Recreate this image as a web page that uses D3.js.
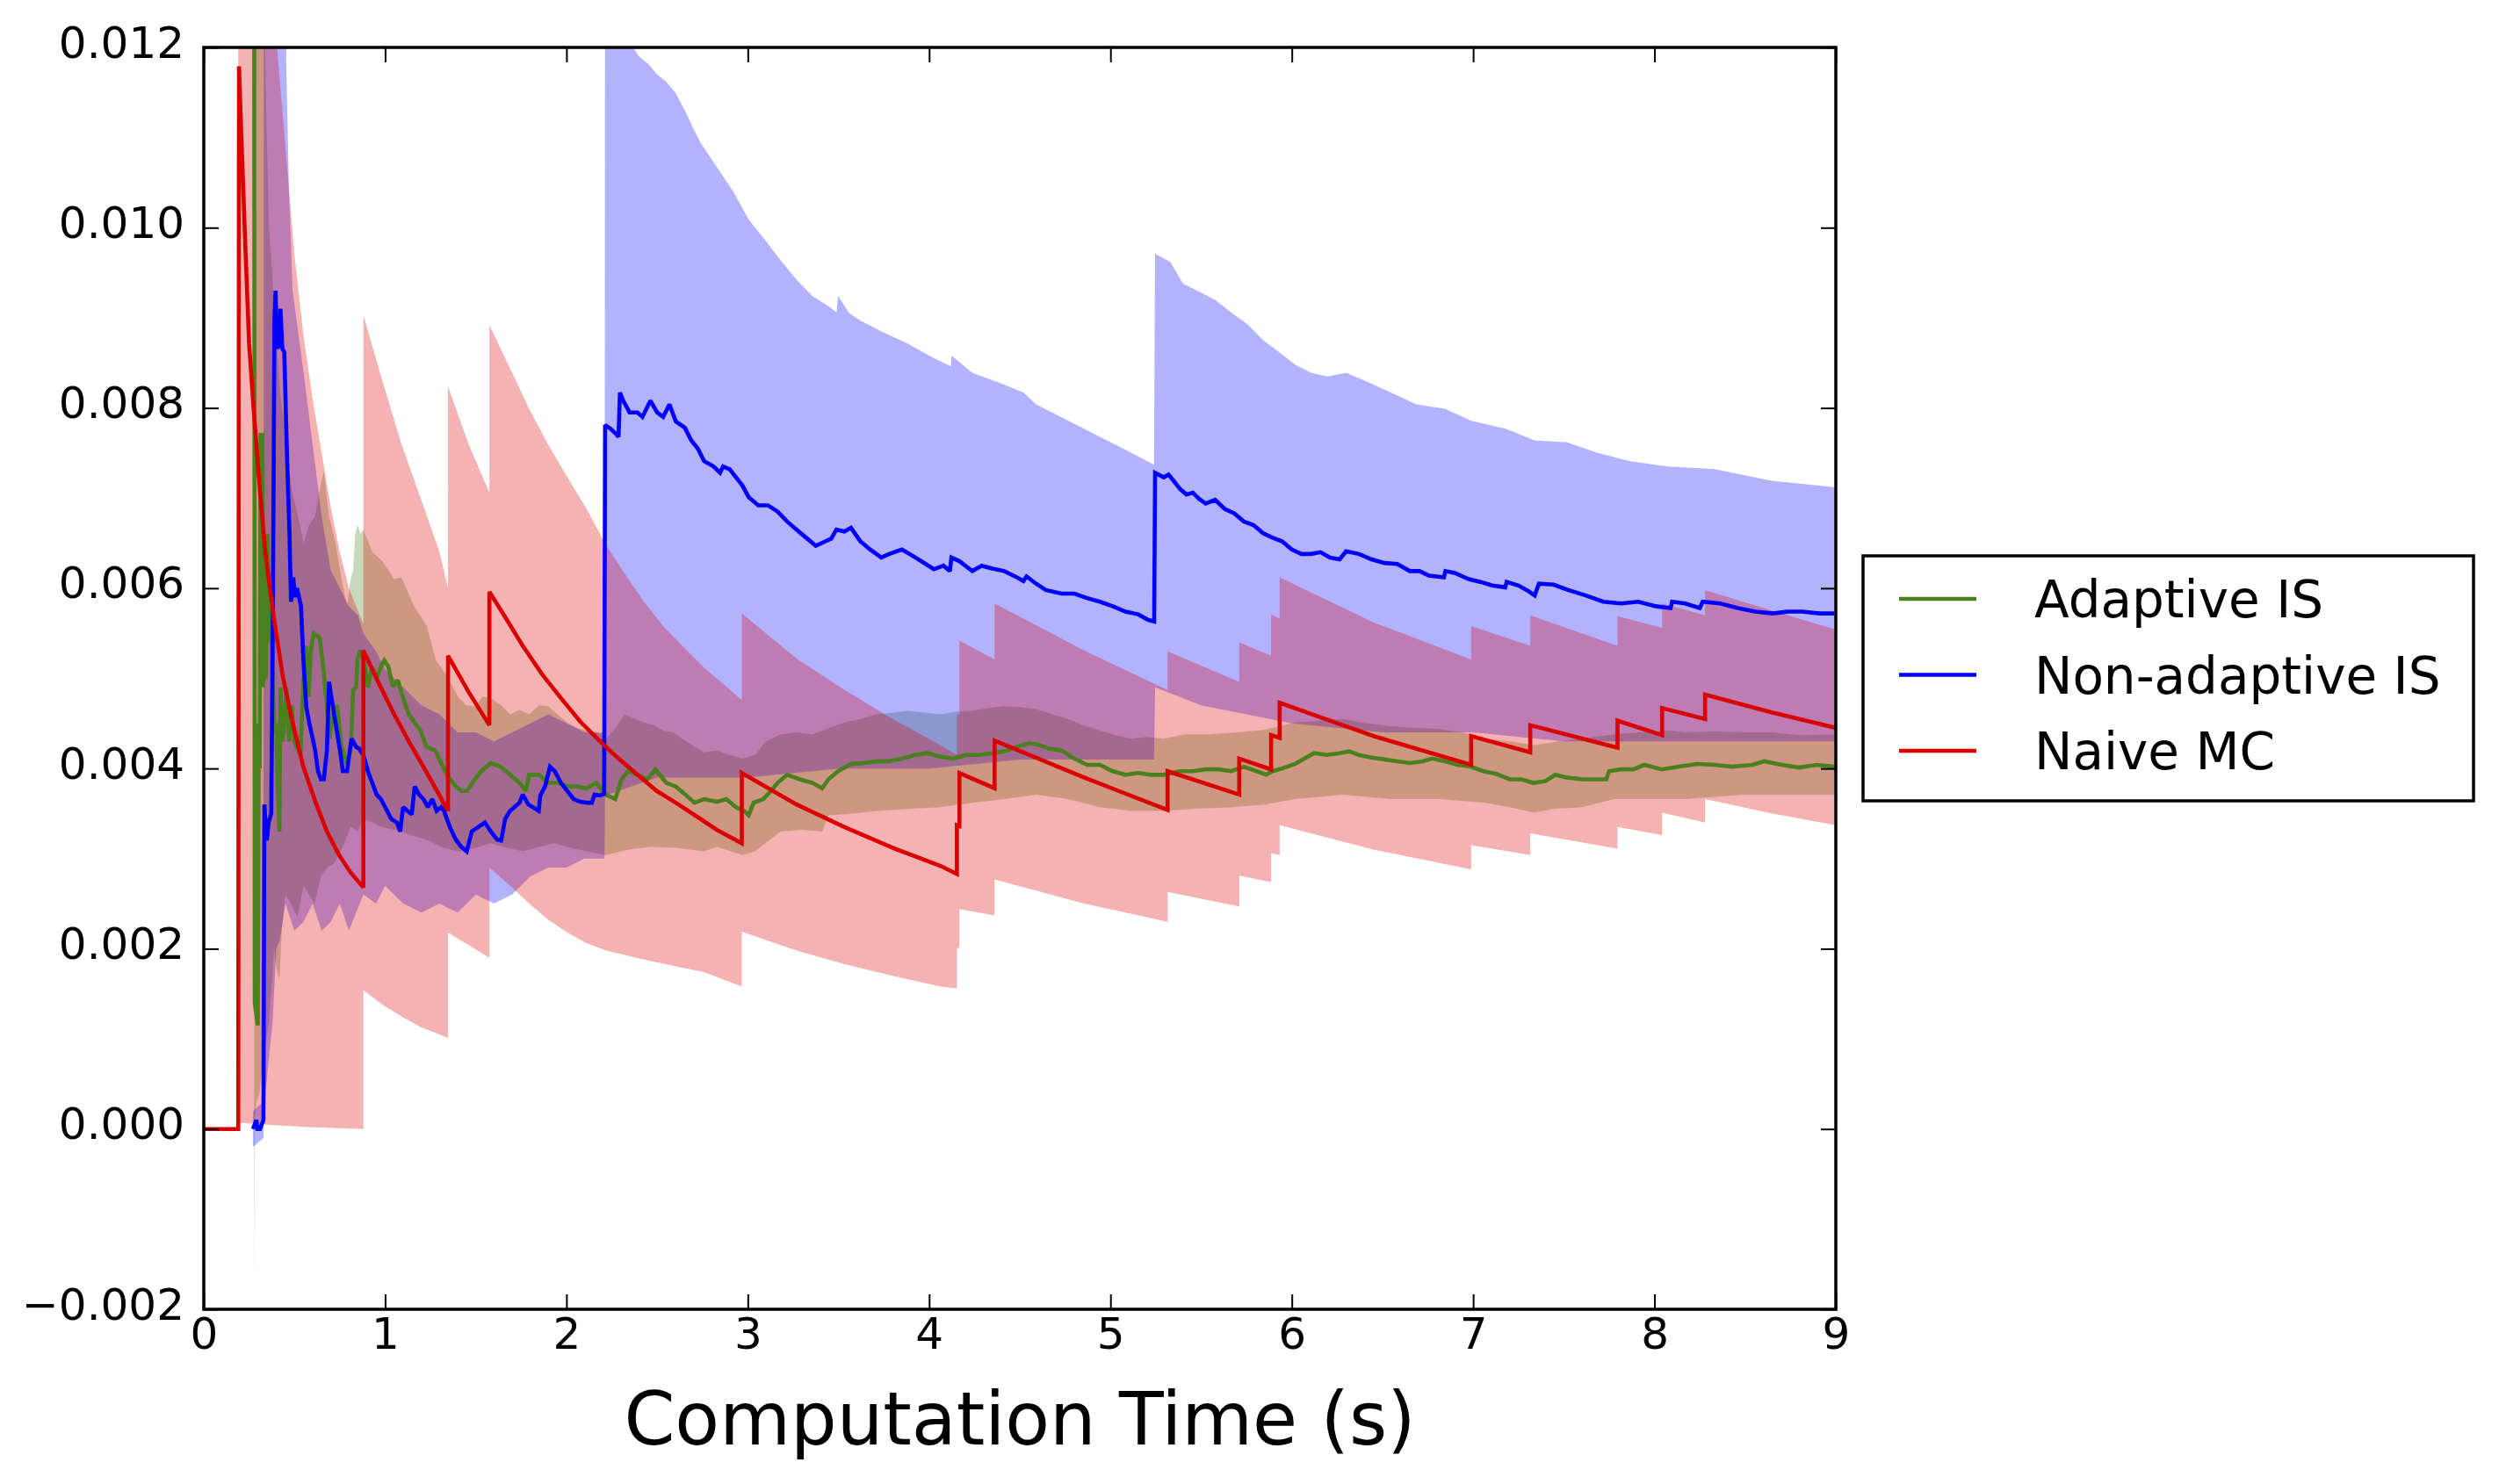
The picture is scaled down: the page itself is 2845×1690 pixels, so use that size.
<!DOCTYPE html>
<html>
<head>
<meta charset="utf-8">
<script src="https://cdn.jsdelivr.net/npm/d3@7"></script>
<style>
  html, body { margin: 0; padding: 0; background: #ffffff; }
  svg { display: block; }
  text { font-family: "DejaVu Sans", sans-serif; fill: #000; }
</style>
</head>
<body>
<div id="chart"></div>
<script>
// ---------------- DATA ----------------
const xTicks = [0, 1, 2, 3, 4, 5, 6, 7, 8, 9];
const yTicks = [-0.002, 0.000, 0.002, 0.004, 0.006, 0.008, 0.010, 0.012];
const xTickLabels = ["0", "1", "2", "3", "4", "5", "6", "7", "8", "9"];
const yTickLabels = ["\u22120.002", "0.000", "0.002", "0.004", "0.006", "0.008", "0.010", "0.012"];
const xAxisTitle = "Computation Time (s)";
const seriesNames = ["Adaptive IS", "Non-adaptive IS", "Naive MC"];

// Adaptive IS: running estimate [time, value]
const adaptiveLine = [
  [0.278,0.0130],[0.281,0.0014],[0.298,0.00115],[0.303,0.0045],[0.308,0.0040],[0.313,0.0077],[0.323,0.0077],
  [0.328,0.0049],[0.335,0.0065],[0.342,0.0050],[0.350,0.0066],[0.360,0.0054],[0.370,0.0058],[0.380,0.0050],
  [0.390,0.0044],[0.400,0.0045],[0.408,0.0038],[0.417,0.0033],[0.423,0.0049],[0.432,0.0043],[0.440,0.0044],
  [0.456,0.0049],[0.470,0.0043],[0.485,0.0047],[0.500,0.0043],[0.520,0.0042],[0.533,0.00415],[0.549,0.00496],
  [0.565,0.00536],[0.578,0.0048],[0.590,0.0053],[0.606,0.0055],[0.638,0.00545],[0.655,0.0052],[0.675,0.00478],
  [0.695,0.00433],[0.711,0.0046],[0.735,0.0047],[0.759,0.00424],[0.788,0.00406],[0.810,0.0042],[0.824,0.00487],
  [0.840,0.0049],[0.848,0.00522],[0.864,0.00531],[0.880,0.00522],[0.905,0.0049],[0.929,0.00513],[0.953,0.0050],
  [0.977,0.00513],[0.995,0.0052],[1.018,0.00513],[1.042,0.00491],[1.070,0.00498],[1.099,0.00478],[1.131,0.0046],
  [1.163,0.00451],[1.195,0.00442],[1.228,0.00424],[1.276,0.0042],[1.309,0.00406],[1.341,0.00393],[1.389,0.0038],
  [1.422,0.00375],[1.451,0.00375],[1.495,0.00388],[1.530,0.00397],[1.583,0.00406],[1.636,0.00402],[1.689,0.00393],
  [1.741,0.00384],[1.777,0.00375],[1.794,0.00393],[1.847,0.00393],[1.900,0.00384],[1.953,0.00384],[2.005,0.0038],
  [2.058,0.0038],[2.111,0.00378],[2.164,0.00384],[2.216,0.00371],[2.269,0.00366],[2.304,0.00388],[2.339,0.00397],
  [2.392,0.00393],[2.445,0.00388],[2.490,0.00399],[2.551,0.00384],[2.603,0.0038],[2.656,0.00371],[2.706,0.00362],
  [2.759,0.00366],[2.829,0.00363],[2.882,0.00366],[2.935,0.00357],[2.979,0.00353],[3.005,0.00348],[3.032,0.00362],
  [3.085,0.00366],[3.128,0.00375],[3.164,0.00384],[3.217,0.00393],[3.287,0.00388],[3.357,0.00384],[3.410,0.00378],
  [3.445,0.00388],[3.498,0.00397],[3.569,0.00405],[3.639,0.00406],[3.710,0.00408],[3.780,0.00408],[3.850,0.00411],
  [3.921,0.00415],[3.991,0.00417],[4.062,0.00413],[4.132,0.00411],[4.202,0.00415],[4.273,0.00415],[4.343,0.00417],
  [4.414,0.00419],[4.484,0.00424],[4.555,0.00428],[4.607,0.00426],[4.660,0.00422],[4.731,0.0042],[4.801,0.00411],
  [4.871,0.00404],[4.942,0.00404],[5.012,0.00397],[5.083,0.00393],[5.153,0.00395],[5.224,0.00393],[5.294,0.00393],
  [5.384,0.00397],[5.454,0.00397],[5.525,0.00399],[5.595,0.00399],[5.665,0.00397],[5.736,0.00402],[5.806,0.00397],
  [5.859,0.00393],[5.894,0.00397],[5.947,0.004],[6.018,0.00405],[6.070,0.00411],[6.123,0.00417],[6.194,0.00415],
  [6.264,0.00417],[6.317,0.00419],[6.370,0.00415],[6.440,0.00412],[6.511,0.0041],[6.581,0.00408],[6.651,0.00406],
  [6.722,0.00408],[6.775,0.00411],[6.845,0.00408],[6.915,0.00404],[6.986,0.00402],[7.056,0.00397],[7.127,0.00394],
  [7.202,0.00388],[7.268,0.00388],[7.331,0.00384],[7.400,0.00386],[7.452,0.00393],[7.514,0.0039],[7.605,0.00388],
  [7.734,0.00388],[7.750,0.00397],[7.813,0.00399],[7.884,0.00399],[7.944,0.00404],[8.040,0.00399],[8.137,0.00402],
  [8.234,0.00405],[8.331,0.00404],[8.427,0.00402],[8.540,0.00404],[8.605,0.00408],[8.702,0.00404],[8.798,0.00401],
  [8.895,0.00404],[8.992,0.00402]
];
const adaptiveUpper = [
  [0.278,0.0130],[0.330,0.0130],[0.345,0.0112],[0.360,0.0100],[0.380,0.0094],[0.400,0.0088],[0.420,0.0082],
  [0.450,0.0077],[0.485,0.0071],[0.520,0.0068],[0.550,0.0065],[0.580,0.0067],[0.614,0.0068],[0.640,0.0071],
  [0.662,0.0073],[0.690,0.0068],[0.727,0.0065],[0.760,0.0061],[0.790,0.0058],[0.810,0.0061],[0.824,0.0062],
  [0.835,0.0066],[0.848,0.0067],[0.865,0.0066],[0.880,0.00665],[0.930,0.0064],[0.985,0.0063],[1.050,0.0061],
  [1.090,0.00612],[1.160,0.0058],[1.230,0.00558],[1.280,0.0052],[1.337,0.00504],[1.407,0.00478],[1.450,0.0047],
  [1.495,0.00469],[1.540,0.0048],[1.583,0.00478],[1.640,0.0047],[1.689,0.0046],[1.740,0.00465],[1.794,0.0046],
  [1.850,0.0047],[1.900,0.00469],[1.950,0.0046],[2.005,0.00451],[2.060,0.00445],[2.111,0.00442],[2.170,0.0044],
  [2.220,0.00433],[2.270,0.00445],[2.322,0.0046],[2.380,0.00455],[2.427,0.00451],[2.480,0.00448],[2.533,0.00442],
  [2.590,0.0044],[2.638,0.00433],[2.700,0.00425],[2.758,0.00418],[2.830,0.0042],[2.900,0.00415],[2.970,0.00411],
  [3.040,0.00415],[3.100,0.0043],[3.180,0.00438],[3.270,0.0044],[3.357,0.00438],[3.450,0.00445],[3.533,0.00451],
  [3.620,0.00455],[3.710,0.0046],[3.800,0.00462],[3.886,0.00464],[3.970,0.00462],[4.060,0.0046],[4.150,0.00463],
  [4.238,0.00464],[4.330,0.00467],[4.414,0.00469],[4.500,0.00468],[4.590,0.00466],[4.680,0.0046],[4.766,0.00455],
  [4.850,0.00448],[4.942,0.00442],[5.030,0.00437],[5.118,0.00433],[5.200,0.00435],[5.294,0.00433],[5.414,0.00438],
  [5.550,0.00438],[5.700,0.0044],[5.850,0.00443],[6.018,0.00451],[6.150,0.00453],[6.280,0.00455],[6.410,0.0045],
  [6.546,0.00447],[6.680,0.00445],[6.810,0.00444],[6.940,0.0044],[7.070,0.00433],[7.200,0.0043],[7.338,0.00426],
  [7.470,0.0043],[7.600,0.00433],[7.778,0.00438],[7.920,0.0044],[8.074,0.00442],[8.170,0.0044],[8.330,0.00441],
  [8.490,0.0044],[8.650,0.0044],[8.800,0.00437],[9.000,0.00438]
];
const adaptiveLower = [
  [0.278,-0.0017],[0.282,0.0001],[0.290,0.0003],[0.307,0.0004],[0.330,0.0008],[0.360,0.0012],[0.388,0.0020],
  [0.400,0.0018],[0.417,0.00165],[0.430,0.0022],[0.450,0.0026],[0.480,0.0025],[0.517,0.00235],[0.550,0.0027],
  [0.580,0.0026],[0.610,0.0025],[0.646,0.0028],[0.680,0.0029],[0.720,0.00295],[0.760,0.0031],[0.810,0.00335],
  [0.850,0.0033],[0.880,0.00344],[0.930,0.0034],[0.985,0.00335],[1.090,0.0033],[1.160,0.00325],[1.230,0.00321],
  [1.320,0.00312],[1.407,0.00308],[1.500,0.00312],[1.583,0.00317],[1.670,0.00312],[1.760,0.00308],[1.850,0.00313],
  [1.935,0.00317],[2.020,0.00312],[2.111,0.00308],[2.220,0.00304],[2.340,0.0031],[2.463,0.00313],[2.600,0.00312],
  [2.758,0.00308],[2.830,0.00313],[2.970,0.00304],[3.040,0.00308],[3.180,0.0033],[3.300,0.00332],[3.410,0.0033],
  [3.445,0.00348],[3.580,0.0035],[3.710,0.00353],[3.880,0.00355],[4.060,0.00357],[4.240,0.00362],[4.414,0.00366],
  [4.590,0.00371],[4.766,0.00366],[4.942,0.00357],[5.118,0.00353],[5.294,0.00353],[5.450,0.00355],[5.665,0.00357],
  [5.850,0.0036],[6.018,0.00366],[6.280,0.00371],[6.546,0.00366],[6.810,0.00366],[7.070,0.00362],[7.200,0.00357],
  [7.338,0.00351],[7.440,0.00355],[7.600,0.00357],[7.778,0.00366],[8.074,0.00366],[8.170,0.00366],[8.490,0.00371],
  [9.000,0.00371]
];

// Non-adaptive IS
const nonAdaptiveLine = [
  [0.271,0.0000],[0.290,0.0001],[0.296,0.0000],[0.310,0.0000],[0.329,0.0001],[0.334,0.0036],[0.347,0.0032],
  [0.358,0.0034],[0.372,0.0035],[0.380,0.0054],[0.390,0.0090],[0.396,0.0093],[0.404,0.00866],[0.417,0.0087],
  [0.423,0.0091],[0.433,0.00866],[0.444,0.00862],[0.452,0.0080],[0.460,0.0074],[0.472,0.00665],[0.481,0.00585],
  [0.493,0.00612],[0.504,0.0059],[0.514,0.0060],[0.536,0.0058],[0.549,0.00522],[0.565,0.00469],[0.582,0.0045],
  [0.601,0.00433],[0.614,0.0042],[0.630,0.00397],[0.646,0.00388],[0.662,0.00388],[0.679,0.0042],[0.691,0.00496],
  [0.703,0.0048],[0.719,0.0046],[0.735,0.0044],[0.751,0.0042],[0.767,0.00397],[0.790,0.00397],[0.808,0.00424],
  [0.816,0.00433],[0.840,0.00424],[0.856,0.00422],[0.880,0.00415],[0.905,0.00397],[0.929,0.00384],[0.953,0.00371],
  [0.977,0.00366],[1.000,0.00357],[1.034,0.00344],[1.066,0.0034],[1.083,0.0033],[1.099,0.00357],[1.123,0.00353],
  [1.147,0.00349],[1.163,0.0038],[1.187,0.00371],[1.212,0.00366],[1.236,0.00357],[1.260,0.00366],[1.284,0.00353],
  [1.309,0.00357],[1.325,0.00353],[1.357,0.00335],[1.390,0.00321],[1.420,0.00313],[1.450,0.00308],[1.478,0.0033],
  [1.513,0.00335],[1.550,0.0034],[1.583,0.0033],[1.618,0.00321],[1.640,0.0032],[1.662,0.00344],[1.689,0.00353],
  [1.741,0.00362],[1.759,0.00371],[1.790,0.0036],[1.847,0.00353],[1.856,0.0037],[1.882,0.0038],[1.909,0.00402],
  [1.935,0.00397],[1.970,0.00384],[2.005,0.00375],[2.040,0.00366],[2.076,0.00363],[2.111,0.00362],[2.140,0.00362],
  [2.155,0.00371],[2.185,0.0037],[2.208,0.00372],[2.213,0.00781],[2.243,0.00777],[2.269,0.00772],[2.287,0.00768],
  [2.295,0.00817],[2.313,0.00808],[2.348,0.00795],[2.392,0.00795],[2.419,0.0079],[2.463,0.00808],[2.500,0.00795],
  [2.533,0.0079],[2.568,0.00804],[2.603,0.00785],[2.653,0.00778],[2.688,0.00764],[2.724,0.00755],[2.759,0.00741],
  [2.812,0.00735],[2.847,0.00728],[2.864,0.00735],[2.900,0.00732],[2.935,0.00723],[2.970,0.00714],[3.005,0.00701],
  [3.058,0.00692],[3.111,0.00692],[3.164,0.00685],[3.217,0.00674],[3.269,0.00665],[3.322,0.00656],[3.375,0.00647],
  [3.428,0.00652],[3.460,0.00655],[3.489,0.00665],[3.533,0.00663],[3.569,0.00667],[3.621,0.00652],[3.674,0.00643],
  [3.736,0.00634],[3.780,0.00638],[3.850,0.00643],[3.900,0.00637],[3.956,0.0063],[4.026,0.00621],[4.079,0.00625],
  [4.114,0.00619],[4.123,0.00634],[4.167,0.0063],[4.238,0.00619],[4.290,0.00625],[4.343,0.00622],[4.414,0.00619],
  [4.484,0.00612],[4.520,0.00608],[4.537,0.00613],[4.590,0.00605],[4.643,0.00598],[4.731,0.00594],[4.801,0.00594],
  [4.871,0.00589],[4.942,0.00585],[5.012,0.0058],[5.083,0.00574],[5.153,0.00571],[5.206,0.00565],[5.241,0.00563],
  [5.246,0.00728],[5.294,0.00723],[5.320,0.00726],[5.349,0.00719],[5.384,0.0071],[5.419,0.00704],[5.454,0.00706],
  [5.489,0.00699],[5.525,0.00694],[5.577,0.00698],[5.630,0.00688],[5.683,0.00683],[5.736,0.00674],[5.789,0.0067],
  [5.842,0.00661],[5.894,0.00656],[5.947,0.00652],[6.000,0.00643],[6.053,0.00638],[6.106,0.00638],[6.158,0.0064],
  [6.211,0.00634],[6.264,0.00632],[6.299,0.00641],[6.370,0.00638],[6.440,0.00632],[6.511,0.00628],[6.581,0.00627],
  [6.651,0.00619],[6.704,0.00619],[6.757,0.00614],[6.839,0.00612],[6.847,0.00619],[6.898,0.00617],[6.976,0.0061],
  [7.040,0.00607],[7.105,0.00603],[7.177,0.00601],[7.185,0.00607],[7.250,0.00603],[7.303,0.00597],[7.339,0.00592],
  [7.363,0.00605],[7.444,0.00604],[7.524,0.00598],[7.621,0.00592],[7.718,0.00585],[7.815,0.00583],[7.911,0.00585],
  [8.008,0.0058],[8.089,0.00578],[8.097,0.00585],[8.169,0.00583],[8.250,0.00578],[8.266,0.00585],[8.363,0.00583],
  [8.460,0.00578],[8.556,0.00574],[8.653,0.00572],[8.734,0.00574],[8.815,0.00574],[8.911,0.00572],[8.992,0.00572]
];
const nonAdaptiveUpper = [
  [0.271,0.0002],[0.329,0.0003],[0.331,0.0130],[0.450,0.0128],[0.455,0.0118],[0.470,0.0104],[0.490,0.0093],
  [0.550,0.0084],[0.600,0.0076],[0.650,0.0068],[0.700,0.0062],[0.750,0.0060],[0.800,0.0058],[0.850,0.0057],
  [0.880,0.0055],[0.950,0.0053],[1.000,0.0051],[1.100,0.0049],[1.200,0.0047],[1.300,0.0046],[1.400,0.0044],
  [1.500,0.0044],[1.600,0.0043],[1.700,0.0044],[1.800,0.0045],[1.900,0.0046],[2.000,0.0045],[2.100,0.0044],
  [2.210,0.0044],[2.213,0.0128],[2.300,0.0122],[2.350,0.01205],[2.400,0.0119],[2.450,0.01182],[2.500,0.0117],
  [2.550,0.01162],[2.600,0.0115],[2.653,0.0113],[2.700,0.0111],[2.740,0.01094],[2.830,0.01067],[2.920,0.0104],
  [3.005,0.01009],[3.093,0.00987],[3.180,0.00964],[3.270,0.00942],[3.357,0.00924],[3.450,0.00912],[3.490,0.00906],
  [3.498,0.00924],[3.560,0.00905],[3.620,0.00897],[3.745,0.00884],[3.886,0.00871],[4.009,0.00857],[4.120,0.00846],
  [4.123,0.00858],[4.238,0.00839],[4.414,0.00826],[4.520,0.00817],[4.590,0.00804],[4.766,0.00786],[4.942,0.00768],
  [5.118,0.0075],[5.240,0.00737],[5.246,0.00971],[5.330,0.00962],[5.400,0.00938],[5.490,0.00929],[5.577,0.0092],
  [5.665,0.00906],[5.754,0.00893],[5.842,0.00875],[5.930,0.00862],[6.018,0.00848],[6.106,0.00839],[6.194,0.00835],
  [6.299,0.00839],[6.405,0.0083],[6.546,0.00817],[6.687,0.00804],[6.845,0.00799],[6.986,0.00786],[7.180,0.00777],
  [7.338,0.00764],[7.514,0.00762],[7.690,0.0075],[7.866,0.00741],[8.074,0.00735],[8.330,0.00732],[8.653,0.00719],
  [9.000,0.00712]
];
const nonAdaptiveLower = [
  [0.271,-0.0002],[0.329,-0.0001],[0.331,0.0002],[0.360,0.0008],[0.380,0.0012],[0.400,0.0020],[0.420,0.0021],
  [0.450,0.0025],[0.500,0.0022],[0.550,0.0023],[0.600,0.0025],[0.650,0.0022],[0.700,0.0023],[0.750,0.0025],
  [0.800,0.0022],[0.880,0.0026],[0.950,0.0025],[1.000,0.0027],[1.100,0.0025],[1.200,0.0024],[1.300,0.0025],
  [1.400,0.0024],[1.500,0.0026],[1.600,0.0025],[1.700,0.0026],[1.800,0.0028],[1.900,0.0029],[2.000,0.0029],
  [2.100,0.0030],[2.210,0.0030],[2.213,0.0037],[2.500,0.0039],[3.000,0.0039],[3.500,0.0040],[4.000,0.0040],
  [4.500,0.0041],[5.000,0.0041],[5.240,0.0041],[5.246,0.0049],[5.500,0.0047],[6.000,0.0045],[6.500,0.0044],
  [7.000,0.0044],[7.500,0.0043],[8.000,0.0043],[8.500,0.0043],[9.000,0.0043]
];

// Naive MC
const naiveLine = [
  [0,0],[0.19,0],[0.194,0.01179],[0.207,0.01103],[0.226,0.00996],[0.250,0.00871],[0.275,0.00799],[0.307,0.00715],
  [0.339,0.0064],[0.388,0.00565],[0.436,0.00502],[0.485,0.00455],[0.549,0.00402],[0.614,0.00364],[0.679,0.0033],
  [0.743,0.00305],[0.808,0.00285],[0.880,0.00268],
  [0.880,0.00531],[0.969,0.00493],[1.050,0.0046],[1.131,0.0043],[1.228,0.00396],[1.347,0.00353],
  [1.347,0.00525],[1.460,0.00485],[1.575,0.00448],
  [1.575,0.00596],[1.671,0.00565],[1.759,0.00536],[1.864,0.00505],[1.970,0.00478],[2.076,0.00452],[2.181,0.00431],
  [2.287,0.00411],[2.392,0.00393],[2.498,0.00375],[2.603,0.00362],[2.709,0.00348],[2.829,0.00332],[2.967,0.00317],
  [2.967,0.00395],[3.269,0.0036],[3.533,0.00335],[3.798,0.00312],[4.062,0.00292],[4.153,0.00283],
  [4.153,0.00337],[4.167,0.00336],[4.167,0.00395],[4.361,0.00378],
  [4.361,0.00431],[4.854,0.0039],[5.315,0.00354],
  [5.315,0.00397],[5.710,0.00371],
  [5.710,0.00411],[5.886,0.00399],
  [5.886,0.00437],[5.933,0.00434],
  [5.933,0.00473],[6.450,0.00436],[6.989,0.00404],
  [6.989,0.00436],[7.315,0.00418],
  [7.315,0.00448],[7.796,0.00423],
  [7.796,0.00453],[8.042,0.00437],
  [8.042,0.00467],[8.279,0.00455],
  [8.279,0.00482],[8.650,0.00462],[9.000,0.00445]
];
const naiveUpper = [
  [0.19,0.0135],[0.30,0.0128],[0.40,0.0121],[0.45,0.0109],[0.50,0.0097],[0.55,0.0088],[0.60,0.0081],[0.65,0.0075],
  [0.70,0.0069],[0.75,0.0064],[0.80,0.0060],[0.88,0.0056],
  [0.88,0.00903],[0.985,0.0083],[1.09,0.0076],[1.196,0.0070],[1.30,0.0064],[1.347,0.0060],
  [1.347,0.00824],[1.46,0.0076],[1.575,0.00706],
  [1.575,0.00892],[1.689,0.00844],[1.794,0.00799],[1.9,0.00759],[2.005,0.00723],[2.111,0.00688],[2.22,0.00647],
  [2.322,0.00616],[2.427,0.00585],[2.533,0.00558],[2.638,0.00536],[2.758,0.00512],[2.829,0.0050],[2.967,0.00476],
  [2.967,0.00572],[3.269,0.00522],[3.533,0.00487],[3.798,0.00455],[4.062,0.00426],[4.153,0.00415],
  [4.153,0.0046],[4.167,0.0046],[4.167,0.00542],[4.361,0.00521],
  [4.361,0.00583],[4.854,0.00531],[5.315,0.00487],
  [5.315,0.0053],[5.710,0.00496],
  [5.710,0.0054],[5.886,0.00525],
  [5.886,0.00571],[5.933,0.00566],
  [5.933,0.00612],[6.45,0.00562],[6.989,0.00521],
  [6.989,0.00558],[7.315,0.00536],
  [7.315,0.0057],[7.796,0.00536],
  [7.796,0.00569],[8.042,0.00556],
  [8.042,0.00583],[8.279,0.0057],
  [8.279,0.00598],[8.65,0.00575],[9.0,0.00554]
];
const naiveLower = [
  [0.19,0.00007],[0.40,0.00004],[0.60,0.00002],[0.88,0.0],
  [0.88,0.00154],[0.985,0.00138],[1.09,0.00125],[1.196,0.00113],[1.30,0.00105],[1.347,0.00101],
  [1.347,0.00218],[1.46,0.00204],[1.575,0.0019],
  [1.575,0.0029],[1.689,0.0027],[1.794,0.0025],[1.9,0.00232],[2.005,0.00218],[2.111,0.00206],[2.22,0.00198],
  [2.427,0.00188],[2.638,0.00179],[2.758,0.00174],[2.967,0.00158],
  [2.967,0.00219],[3.269,0.00198],[3.533,0.00183],[3.798,0.0017],[4.062,0.00158],[4.153,0.00156],
  [4.153,0.00201],[4.167,0.00201],[4.167,0.00244],[4.361,0.00237],
  [4.361,0.00277],[4.854,0.0025],[5.315,0.0023],
  [5.315,0.00263],[5.710,0.00247],
  [5.710,0.00281],[5.886,0.00274],
  [5.886,0.00306],[5.933,0.00304],
  [5.933,0.00337],[6.45,0.0031],[6.989,0.00288],
  [6.989,0.00315],[7.315,0.00304],
  [7.315,0.00328],[7.796,0.00311],
  [7.796,0.00335],[8.042,0.00326],
  [8.042,0.00351],[8.279,0.0034],
  [8.279,0.00366],[8.65,0.0035],[9.0,0.00337]
];

const seriesColors = ["#4a801e", "#0000ff", "#da0000"];

// ---------------- DRAWING ----------------
const W = 2845, H = 1690;
const plot = { left: 232, right: 2090, top: 54, bottom: 1491 };

const svg = d3.select("#chart").append("svg")
  .attr("width", W).attr("height", H).attr("viewBox", `0 0 ${W} ${H}`);
svg.append("rect").attr("width", W).attr("height", H).attr("fill", "#fff");

const x = d3.scaleLinear().domain([0, 9]).range([plot.left, plot.right]);
const y = d3.scaleLinear().domain([-0.002, 0.012]).range([plot.bottom, plot.top]);

svg.append("defs").append("clipPath").attr("id", "clip")
  .append("rect").attr("x", plot.left).attr("y", plot.top)
  .attr("width", plot.right - plot.left).attr("height", plot.bottom - plot.top);

const g = svg.append("g").attr("clip-path", "url(#clip)");
const lineGen = d3.line().x(d => x(d[0])).y(d => y(d[1]));

const bands = [
  [adaptiveUpper, adaptiveLower, seriesColors[0]],
  [nonAdaptiveUpper, nonAdaptiveLower, seriesColors[1]],
  [naiveUpper, naiveLower, seriesColors[2]]
];
bands.forEach(([up, lo, col]) => {
  const poly = up.concat(lo.slice().reverse());
  g.append("path").attr("d", lineGen(poly) + "Z")
    .attr("fill", col).attr("fill-opacity", 0.3).attr("stroke", "none");
});

const lines = [adaptiveLine, nonAdaptiveLine, naiveLine];
lines.forEach((data, i) => {
  g.append("path").attr("d", lineGen(data))
    .attr("fill", "none").attr("stroke", seriesColors[i])
    .attr("stroke-width", 4.6).attr("stroke-linejoin", "miter").attr("stroke-miterlimit", 2);
});

// Axes (ticks inward on all four sides)
const tickLen = 17;
const xAxis = svg.append("g").attr("transform", `translate(0,${plot.bottom})`)
  .call(d3.axisBottom(x).tickValues(xTicks).tickFormat((d, i) => xTickLabels[i])
    .tickSizeInner(-tickLen).tickSizeOuter(0).tickPadding(9));
const yAxis = svg.append("g").attr("transform", `translate(${plot.left},0)`)
  .call(d3.axisLeft(y).tickValues(yTicks).tickFormat((d, i) => yTickLabels[i])
    .tickSizeInner(-tickLen).tickSizeOuter(0).tickPadding(22));
const xAxisTop = svg.append("g").attr("transform", `translate(0,${plot.top})`)
  .call(d3.axisTop(x).tickValues(xTicks).tickFormat("").tickSizeInner(-tickLen).tickSizeOuter(0));
const yAxisRight = svg.append("g").attr("transform", `translate(${plot.right},0)`)
  .call(d3.axisRight(y).tickValues(yTicks).tickFormat("").tickSizeInner(-tickLen).tickSizeOuter(0));

[xAxis, yAxis, xAxisTop, yAxisRight].forEach(a => {
  a.select(".domain").remove();
  a.selectAll(".tick line").attr("stroke", "#000").attr("stroke-width", 2);
  a.selectAll(".tick text").attr("font-family", "DejaVu Sans").attr("font-size", 50).attr("fill", "#000");
});
yAxis.selectAll(".tick text").attr("dy", "0.22em");

svg.append("rect")
  .attr("x", plot.left).attr("y", plot.top)
  .attr("width", plot.right - plot.left).attr("height", plot.bottom - plot.top)
  .attr("fill", "none").attr("stroke", "#000").attr("stroke-width", 3.5);

// X axis title
svg.append("text")
  .attr("x", (plot.left + plot.right) / 2).attr("y", 1645)
  .attr("text-anchor", "middle").attr("font-size", 83)
  .text(xAxisTitle);

// Legend
const legend = svg.append("g");
legend.append("rect").attr("x", 2121).attr("y", 633).attr("width", 695).attr("height", 279)
  .attr("fill", "#fff").attr("stroke", "#000").attr("stroke-width", 3.5);
seriesNames.forEach((name, i) => {
  const cy = 682 + i * 86.5;
  legend.append("line").attr("x1", 2162).attr("x2", 2250).attr("y1", cy).attr("y2", cy)
    .attr("stroke", seriesColors[i]).attr("stroke-width", 4.6);
  legend.append("text").attr("x", 2316).attr("y", cy + 21).attr("font-size", 58).text(name);
});
</script>
</body>
</html>
